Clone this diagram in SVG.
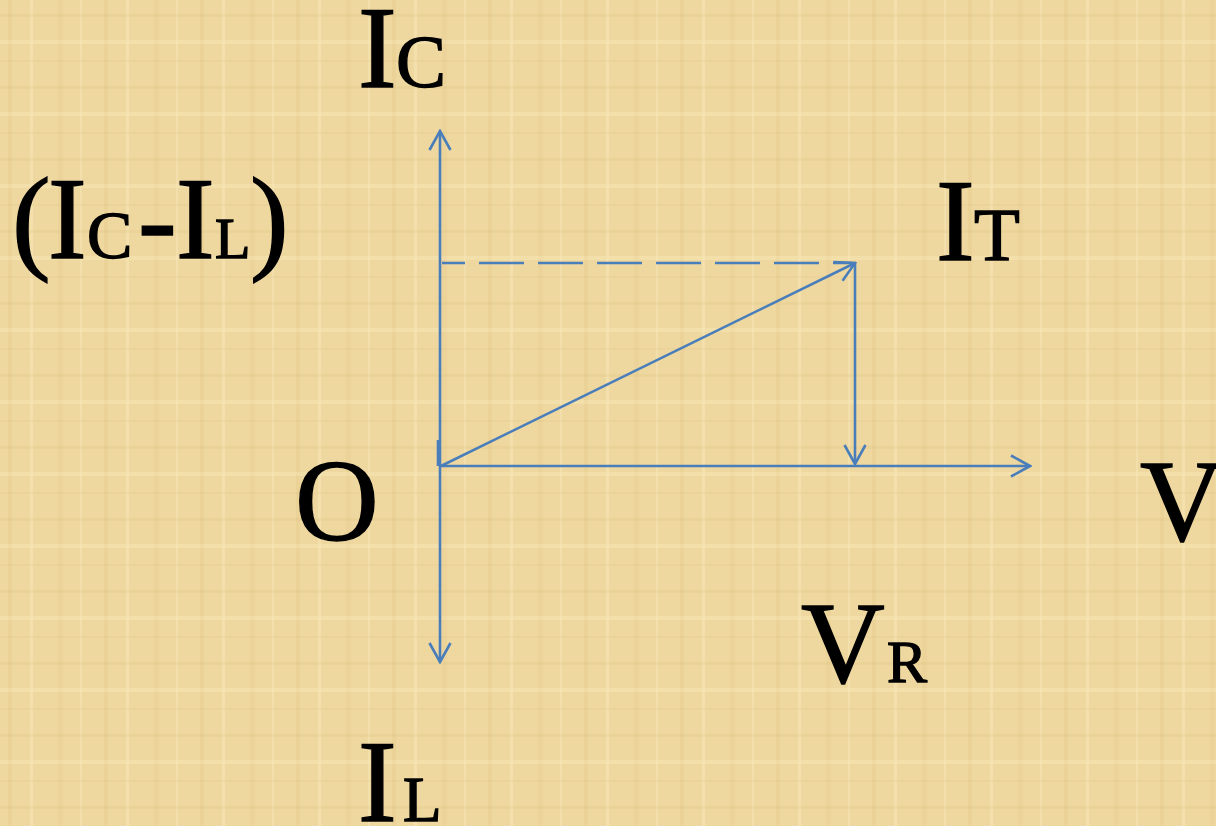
<svg xmlns="http://www.w3.org/2000/svg" width="1216" height="826" viewBox="0 0 1216 826">
  <style>
    .lbl { font-family: "Liberation Serif", "Times New Roman", serif; fill: #000; stroke: #000; stroke-width: 1.4; }
    .big { font-size: 116px; }
    .ln { stroke: #4a7ebb; stroke-width: 2.6; fill: none; }
  </style>
  <defs>
    <marker id="arr" viewBox="0 0 22 26" refX="20" refY="13" markerWidth="22" markerHeight="26" markerUnits="userSpaceOnUse" orient="auto">
      <path d="M1,2.5 L20,13 L1,23.5" fill="none" stroke="#4a7ebb" stroke-width="2.6"/>
    </marker>
    <pattern id="tex" width="96" height="72" patternUnits="userSpaceOnUse">
      <rect width="96" height="72" fill="#efd89f"/>
      <rect x="8" y="0" width="4" height="72" fill="#d6b672" opacity="0.18"/>
      <rect x="30" y="0" width="3" height="72" fill="#f8e9bd" opacity="0.45"/>
      <rect x="58" y="0" width="5" height="72" fill="#d6b672" opacity="0.14"/>
      <rect x="80" y="0" width="2" height="72" fill="#f8e9bd" opacity="0.4"/>
      <rect x="0" y="14" width="96" height="3" fill="#d6b672" opacity="0.16"/>
      <rect x="0" y="40" width="96" height="4" fill="#f8e9bd" opacity="0.35"/>
      <rect x="0" y="60" width="96" height="2" fill="#d6b672" opacity="0.14"/>
    </pattern>
  </defs>
  <rect width="1216" height="826" fill="url(#tex)"/>

  <g id="connectors">
    <line id="axis-up" class="ln" x1="440" y1="466" x2="440" y2="131" marker-end="url(#arr)"/>
    <line id="axis-down" class="ln" x1="440" y1="466" x2="440" y2="662" marker-end="url(#arr)"/>
    <line id="origin-tick" class="ln" x1="438" y1="440" x2="438" y2="466"/>
    <line id="axis-v" class="ln" x1="440" y1="466" x2="1030" y2="466" marker-end="url(#arr)"/>
    <line id="dashed" class="ln" x1="442" y1="263" x2="852" y2="263" stroke-dasharray="45 14" stroke-dashoffset="22"/>
    <line id="it-vector" class="ln" x1="441" y1="466" x2="855" y2="263" marker-end="url(#arr)"/>
    <line id="drop" class="ln" x1="855" y1="263" x2="855" y2="464" marker-end="url(#arr)"/>
  </g>

  <g id="label-IC">
    <text class="lbl big" x="358" y="87">I</text>
    <text class="lbl" x="396" y="87" font-size="75">C</text>
  </g>
  <g id="label-ICminusIL">
    <text class="lbl big" x="12" y="258">(</text>
    <text class="lbl big" x="48" y="258">I</text>
    <text class="lbl" x="87" y="258" font-size="68">C</text>
    <text class="lbl big" x="138" y="258">-</text>
    <text class="lbl big" x="176" y="258">I</text>
    <text class="lbl" x="215" y="258" font-size="58">L</text>
    <text class="lbl big" x="250" y="258">)</text>
  </g>
  <g id="label-IT">
    <text class="lbl big" x="936" y="260">I</text>
    <text class="lbl" x="974" y="260" font-size="75">T</text>
  </g>
  <g id="label-O">
    <text class="lbl big" x="295" y="540">O</text>
  </g>
  <g id="label-V">
    <text class="lbl big" x="1140" y="540">V</text>
  </g>
  <g id="label-VR">
    <text class="lbl big" x="801" y="682">V</text>
    <text class="lbl" x="887" y="682" font-size="60">R</text>
  </g>
  <g id="label-IL">
    <text class="lbl big" x="358" y="821">I</text>
    <text class="lbl" x="403" y="821" font-size="63">L</text>
  </g>
</svg>
